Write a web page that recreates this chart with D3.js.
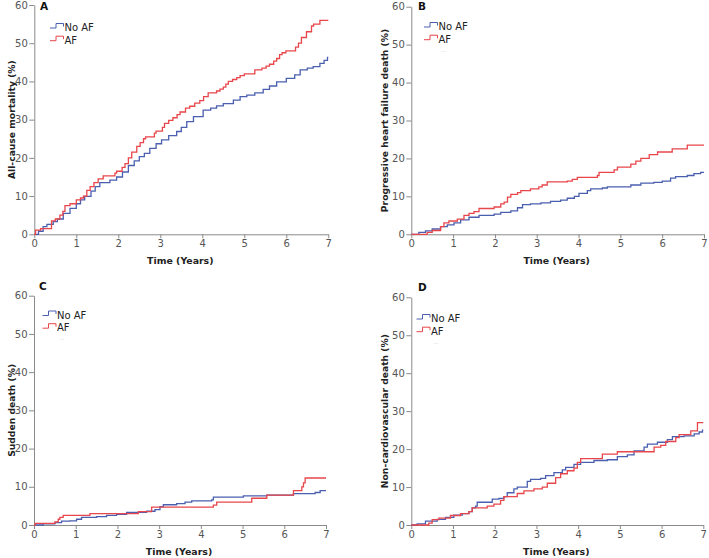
<!DOCTYPE html>
<html>
<head>
<meta charset="utf-8">
<script src="https://cdn.jsdelivr.net/npm/d3@7"></script>
<style>
  html, body { margin: 0; padding: 0; background: #fff; }
  svg { display: block; }
</style>
</head>
<body>
<svg id="chart" width="709" height="558"></svg>
<script>
// ---------------- data ----------------
const seriesNames = ["No AF", "AF"];
const xTicks = [0, 1, 2, 3, 4, 5, 6, 7];
const yTicks = [0, 10, 20, 30, 40, 50, 60];
const panelLetters = ["A", "B", "C", "D"];
const yTitles = ["All-cause mortality (%)", "Progressive heart failure death (%)", "Sudden death (%)", "Non-cardiovascular death (%)"];
const xTitle = "Time (Years)";

// Panel A – all-cause mortality
const timeA_noAF = [0, 0.1, 0.21, 0.3, 0.45, 0.55, 0.69, 0.85, 1.0, 1.1, 1.2, 1.35, 1.45, 1.56, 1.8, 1.96, 2.1, 2.24, 2.38, 2.5, 2.62, 2.75, 2.9, 3.03, 3.2, 3.39, 3.5, 3.63, 3.79, 4.02, 4.2, 4.34, 4.5, 4.74, 4.9, 5.06, 5.25, 5.45, 5.6, 5.77, 6.0, 6.2, 6.33, 6.5, 6.64, 6.8, 6.9, 6.98, 7.0];
const valA_noAF  = [0, 0.8, 2, 2.6, 3.3, 4, 5.5, 6.8, 8, 9, 9.9, 11.3, 12.5, 13.5, 14.2, 15, 16.3, 18, 19.2, 20.3, 21.2, 22.5, 23.7, 24.7, 25.8, 26.9, 28, 29.5, 30.8, 32.5, 33, 33.6, 34.2, 35.1, 36, 36.4, 37, 37.9, 38.8, 39.9, 40.8, 41.7, 43, 43.5, 43.9, 44.7, 45.5, 46.3, 46.3];
const timeA_AF = [0, 0.03, 0.15, 0.41, 0.5, 0.61, 0.68, 0.73, 0.85, 1.0, 1.1, 1.17, 1.25, 1.33, 1.42, 1.52, 1.64, 1.92, 1.96, 2.09, 2.16, 2.24, 2.32, 2.44, 2.52, 2.6, 2.65, 2.86, 2.9, 3.05, 3.1, 3.2, 3.3, 3.4, 3.47, 3.6, 3.7, 3.82, 3.94, 4.03, 4.14, 4.34, 4.42, 4.5, 4.56, 4.62, 4.72, 4.82, 4.9, 5.0, 5.25, 5.42, 5.52, 5.6, 5.7, 5.77, 5.84, 5.9, 5.99, 6.22, 6.29, 6.36, 6.48, 6.6, 6.65, 6.8, 7.0];
const valA_AF  = [0, 1.1, 1.5, 3.5, 4, 5, 6, 7.5, 8, 9, 9.5, 10, 11.5, 12.5, 13.5, 14.5, 15.3, 16, 16.5, 17.5, 18.5, 20, 21.5, 23, 24, 25, 25.5, 26.5, 27, 28, 29, 29.8, 30.5, 31.3, 32, 33, 33.5, 34.3, 35, 36, 37, 37.5, 38, 38.5, 39.3, 40, 40.5, 41, 41.5, 42, 43, 43.5, 44, 44.5, 45.3, 46, 47, 47.5, 48, 49, 50, 51.5, 53, 54.5, 55, 56, 56];

// Panel B – progressive heart failure death
const timeB_noAF = [0, 0.18, 0.34, 0.5, 0.7, 0.86, 1.02, 1.18, 1.38, 1.62, 1.98, 2.14, 2.38, 2.54, 2.66, 2.85, 3.1, 3.33, 3.57, 3.73, 3.9, 4.01, 4.21, 4.29, 4.57, 4.69, 5.25, 5.49, 5.8, 6.0, 6.2, 6.32, 6.6, 6.76, 6.92, 7.0];
const valB_noAF  = [0, 0.5, 0.9, 1.4, 2, 2.5, 3, 3.8, 4.5, 5, 5.3, 5.8, 6.2, 7, 7.8, 8, 8.3, 8.7, 9, 9.5, 10, 10.8, 11.5, 12, 12.2, 12.5, 13, 13.5, 13.7, 14, 14.8, 15.2, 15.5, 16, 16.3, 16.3];
const timeB_AF = [0, 0.38, 0.5, 0.7, 0.78, 0.9, 1.1, 1.26, 1.38, 1.5, 1.62, 1.98, 2.14, 2.22, 2.3, 2.38, 2.54, 2.62, 2.85, 3.05, 3.13, 3.25, 3.73, 3.85, 3.97, 4.45, 4.49, 4.85, 4.93, 5.25, 5.37, 5.49, 5.69, 5.89, 6.24, 6.6, 7.0];
const valB_AF  = [0, 0.5, 1, 2, 3, 3.5, 4, 5, 5.5, 6, 6.8, 7.2, 8, 8.5, 9.8, 10.5, 11, 11.5, 12, 12.5, 13, 13.8, 14, 14.5, 15, 15.5, 16.3, 17, 17.7, 18.5, 19.3, 20, 21, 21.7, 22.5, 23.5, 23.5];

// Panel C – sudden death
const timeC_noAF = [0, 0.22, 0.5, 0.66, 0.86, 1.02, 1.14, 1.5, 1.74, 1.98, 2.22, 2.7, 2.9, 3.02, 3.1, 3.42, 3.62, 3.78, 4.26, 4.3, 5.02, 5.58, 6.22, 6.74, 6.86, 7.0];
const valC_noAF  = [0, 0.3, 0.6, 1, 1.1, 1.5, 2, 2.2, 2.5, 2.8, 3.3, 3.6, 4, 4.8, 5.3, 5.6, 6, 6.3, 6.6, 7.3, 7.6, 7.8, 8.2, 8.5, 9, 9];
const timeC_AF = [0, 0.03, 0.5, 0.58, 0.62, 0.7, 1.34, 2.5, 2.82, 4.3, 4.38, 5.22, 5.58, 6.22, 6.42, 6.46, 6.5, 7.0];
const valC_AF  = [0, 0.4, 0.8, 1.5, 2, 2.5, 3, 3.5, 4.7, 5.2, 6, 7, 7.8, 9, 10, 11, 12.3, 12.3];

// Panel D – non-cardiovascular death
const timeD_noAF = [0, 0.14, 0.34, 0.62, 0.82, 1.02, 1.22, 1.38, 1.46, 1.54, 1.58, 1.94, 2.1, 2.22, 2.3, 2.46, 2.54, 2.78, 2.86, 3.1, 3.22, 3.42, 3.62, 3.7, 3.9, 4.06, 4.38, 4.7, 4.94, 5.18, 5.34, 5.58, 5.66, 5.9, 6.14, 6.26, 6.54, 6.78, 6.9, 6.98, 7.0];
const valD_noAF  = [0, 0.3, 1, 1.5, 2, 2.6, 3, 3.5, 4.5, 5, 6, 6.8, 7, 7.5, 8.5, 9.5, 10, 11.5, 12, 12.3, 13, 13.8, 14.5, 15.2, 16, 16.5, 17, 17.2, 18, 18.5, 19.5, 20.5, 21.3, 21.8, 22.5, 23.3, 23.5, 24, 24.5, 25, 25];
const timeD_AF = [0, 0.42, 0.5, 0.66, 0.94, 1.18, 1.38, 1.46, 1.82, 1.98, 2.14, 2.22, 2.54, 2.7, 2.94, 3.14, 3.26, 3.46, 3.58, 3.74, 3.9, 3.98, 4.06, 4.58, 4.94, 5.82, 5.98, 6.1, 6.34, 6.42, 6.7, 6.86, 7.0];
const valD_AF  = [0, 0.5, 1.4, 1.8, 2.5, 3, 3.5, 4.5, 5, 5.5, 6.5, 7.5, 8.3, 9, 9.5, 10, 11, 12.5, 13.5, 14.3, 15, 16.5, 17.5, 18.7, 19.3, 20.5, 21, 22, 23, 23.8, 24.8, 27, 27];

// ---------------- layout ----------------
const colors = ["#4a5fb0", "#e8464b"];
const panelData = [
  [[timeA_noAF, valA_noAF], [timeA_AF, valA_AF]],
  [[timeB_noAF, valB_noAF], [timeB_AF, valB_AF]],
  [[timeC_noAF, valC_noAF], [timeC_AF, valC_AF]],
  [[timeD_noAF, valD_noAF], [timeD_AF, valD_AF]]
];
const layout = [
  {x0: 34.3, x1: 328.3, yTop: 5,    y0: 234.3, ylabX: 14.5, titleX: 40,  titleY: 10,  legX: 50,  legY: 31,  dots: false},
  {x0: 411.3, x1: 704, yTop: 6.7,  y0: 234.3, ylabX: 387.5, titleX: 418, titleY: 9.5, legX: 424, legY: 30,  dots: true},
  {x0: 34,   x1: 326,   yTop: 295.7, y0: 525,  ylabX: 14.5, titleX: 39,  titleY: 290, legX: 42.5, legY: 318.5, dots: true},
  {x0: 411.3, x1: 703.3, yTop: 297.3, y0: 525, ylabX: 387.5, titleX: 418, titleY: 290.5, legX: 416.5, legY: 322, dots: true}
];

const svg = d3.select("#chart");
const font = "'DejaVu Sans', Verdana, sans-serif";

layout.forEach((L, i) => {
  const x = d3.scaleLinear().domain([0, 7]).range([L.x0, L.x1]);
  const y = d3.scaleLinear().domain([0, 60]).range([L.y0, L.yTop]);
  const g = svg.append("g");

  // axes
  const xa = g.append("g").attr("transform", `translate(0,${L.y0})`)
    .call(d3.axisBottom(x).tickValues(xTicks).tickSize(4).tickSizeOuter(0).tickPadding(1.5).tickFormat(d3.format("d")));
  const ya = g.append("g").attr("transform", `translate(${L.x0},0)`)
    .call(d3.axisLeft(y).tickValues(yTicks).tickSize(5).tickSizeOuter(0).tickPadding(1.5).tickFormat(d3.format("d")));
  [xa, ya].forEach(a => {
    a.select(".domain").attr("stroke", "#8a8a8a").attr("stroke-width", 1);
    a.selectAll(".tick line").attr("stroke", "#8a8a8a");
    a.selectAll(".tick text").attr("fill", "#555").style("font-family", font).style("font-size", "10px");
  });

  // curves
  const line = d3.line().curve(d3.curveStepAfter).x(d => x(d[0])).y(d => y(d[1]));
  panelData[i].forEach((s, k) => {
    const pts = s[0].map((t, j) => [t, s[1][j]]);
    g.append("path").datum(pts).attr("d", line)
      .attr("fill", "none").attr("stroke", colors[k]).attr("stroke-width", 1.3);
  });

  // panel letter
  g.append("text").attr("x", L.titleX).attr("y", L.titleY).text(panelLetters[i])
    .style("font-family", font).style("font-size", "10.5px").style("font-weight", "bold").attr("fill", "#111");

  // axis titles
  g.append("text").attr("transform", `translate(${L.ylabX},${(L.yTop + L.y0) / 2}) rotate(-90)`)
    .attr("text-anchor", "middle").text(yTitles[i])
    .style("font-family", font).style("font-size", "9.2px").style("font-weight", "bold").attr("fill", "#222");
  g.append("text").attr("x", (L.x0 + L.x1) / 2 - 1).attr("y", L.y0 + 30)
    .attr("text-anchor", "middle").text(xTitle)
    .style("font-family", font).style("font-size", "9.4px").style("font-weight", "bold").attr("fill", "#222");

  // legend
  seriesNames.forEach((name, k) => {
    const by = L.legY + k * 12.7;
    const lx = L.legX;
    g.append("path")
      .attr("d", `M${lx},${by - 3} H${lx + 6} V${by - 7.5} H${lx + 13.5} V${by - 4.5}`)
      .attr("fill", "none").attr("stroke", colors[k]).attr("stroke-width", 1);
    g.append("text").attr("x", lx + 14.5).attr("y", by).text(name)
      .style("font-family", font).style("font-size", "10px").attr("fill", "#222");
  });
  if (L.dots) {
    g.append("text").attr("x", L.legX + 17).attr("y", L.legY + 21.5).text("...")
      .style("font-family", font).style("font-size", "5px").attr("fill", "#bbb");
  }
});
</script>
</body>
</html>
